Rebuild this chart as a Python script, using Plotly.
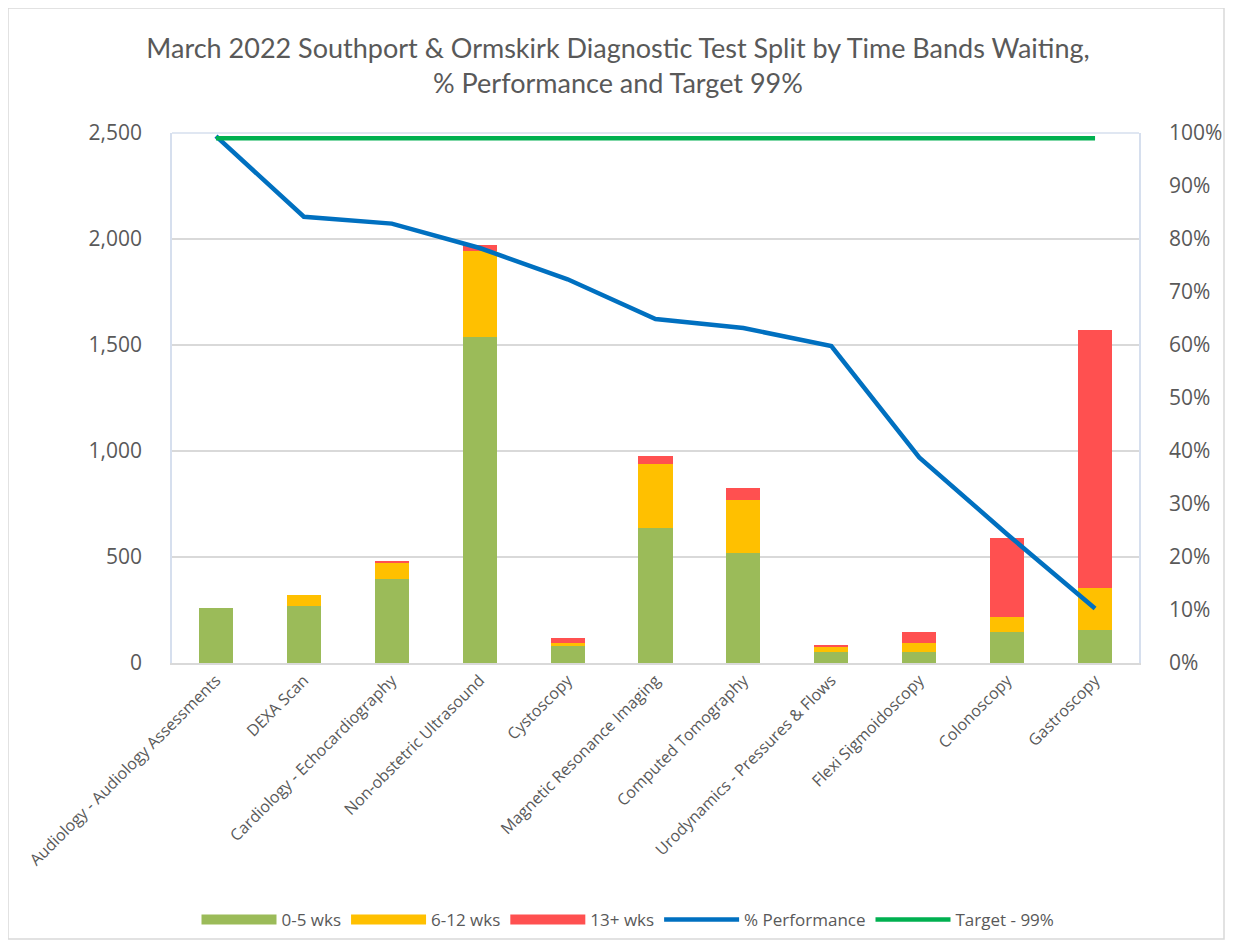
import plotly.graph_objects as go

categories = [
    "Audiology - Audiology Assessments", "DEXA Scan", "Cardiology - Echocardiography",
    "Non-obstetric Ultrasound", "Cystoscopy", "Magnetic Resonance Imaging",
    "Computed Tomography", "Urodynamics - Pressures & Flows", "Flexi Sigmoidoscopy",
    "Colonoscopy", "Gastroscopy",
]
wks_0_5 = [260, 268, 394, 1539, 82, 638, 520, 50, 54, 144, 156]
wks_6_12 = [0, 54, 81, 404, 12, 302, 248, 27, 42, 74, 200]
wks_13_plus = [0, 0, 5, 28, 23, 38, 58, 7, 48, 374, 1213]
performance = [0.994, 0.842, 0.829, 0.783, 0.724, 0.649, 0.632, 0.598, 0.388, 0.243, 0.103]
target = [0.99] * len(categories)

left_ticks = [0, 500, 1000, 1500, 2000, 2500]
right_ticks = [i / 10 for i in range(11)]

GREEN, YELLOW, RED = "#9BBB59", "#FFC000", "#FF5050"
BLUE, TGREEN = "#0070C0", "#00B050"
TXT = "#595959"

# page body has an 8px default margin: work in figure coordinates = page - 8
OFF = 8
W, H = 1217, 932
L, T = 172 - OFF, 133 - OFF
RX, BY = 1139 - OFF, 663 - OFF
pw, ph = RX - L, BY - T


def px(x):
    return (x - OFF - L) / pw


def py(y):
    return (BY - (y - OFF)) / ph


fig = go.Figure()
fig.add_trace(go.Bar(x=categories, y=wks_0_5, name="0-5 wks", marker_color=GREEN,
                     marker_line_width=0, showlegend=False))
fig.add_trace(go.Bar(x=categories, y=wks_6_12, name="6-12 wks", marker_color=YELLOW,
                     marker_line_width=0, showlegend=False))
fig.add_trace(go.Bar(x=categories, y=wks_13_plus, name="13+ wks", marker_color=RED,
                     marker_line_width=0, showlegend=False))
fig.add_trace(go.Scatter(x=categories, y=performance, name="% Performance", mode="lines",
                         line=dict(color=BLUE, width=4.5), yaxis="y2", showlegend=False))
fig.add_trace(go.Scatter(x=categories, y=target, name="Target - 99%", mode="lines",
                         line=dict(color=TGREEN, width=4.5), yaxis="y2", showlegend=False))

# legend entries (Excel-style wide swatches)
for name, col, w in [("0-5 wks", GREEN, 13), ("6-12 wks", YELLOW, 13), ("13+ wks", RED, 13),
                     ("% Performance", BLUE, 4.5), ("Target - 99%", TGREEN, 4.5)]:
    fig.add_trace(go.Scatter(x=[None], y=[None], mode="lines", name=name,
                             line=dict(color=col, width=w), hoverinfo="skip"))

fig.update_layout(
    width=W, height=H,
    margin=dict(l=L, r=W - RX, t=T, b=H - BY, autoexpand=False),
    paper_bgcolor="white", plot_bgcolor="white",
    barmode="stack", bargap=0.613,
    font=dict(family="Open Sans, Noto Sans, sans-serif", color=TXT),
    title=dict(
        text="March 2022 Southport & Ormskirk Diagnostic Test Split by Time Bands Waiting,<br>% Performance and Target 99%",
        x=(618 - OFF) / W, xref="container", xanchor="center",
        y=1 - (58 - OFF) / H, yref="container", yanchor="middle",
        font=dict(family="Lato, Open Sans, sans-serif", size=27, color=TXT),
    ),
    xaxis=dict(
        tickangle=-45, tickfont=dict(size=16, color=TXT),
        showgrid=False, showline=True, linecolor="#D9D9D9", linewidth=1.5,
        ticks="", mirror=False,
    ),
    yaxis=dict(
        range=[0, 2500], tickvals=left_ticks, tickformat=",",
        tickfont=dict(size=21, color=TXT),
        showgrid=True, gridcolor="#D9D9D9", gridwidth=1.5,
        showline=True, linecolor="#D6DFEE", linewidth=1.5,
        zeroline=False, ticks="", ticklabelstandoff=24,
    ),
    yaxis2=dict(
        range=[0, 1], tickvals=right_ticks, tickformat=".0%",
        overlaying="y", side="right",
        tickfont=dict(size=21, color=TXT),
        showgrid=False, showline=True, linecolor="#D6DFEE", linewidth=1.5,
        zeroline=False, ticks="", ticklabelstandoff=24,
    ),
    legend=dict(
        orientation="h", x=px(628), xanchor="center", y=py(920), yanchor="middle",
        font=dict(size=17, color=TXT), traceorder="normal",
        itemwidth=75, bgcolor="rgba(0,0,0,0)",
    ),
    showlegend=True,
)

# plot-area top border
fig.add_shape(type="line", xref="paper", yref="paper", x0=0, x1=1, y0=1, y1=1,
              line=dict(color="#D6DFEE", width=1.5))
# outer chart border
fig.add_shape(type="rect", xref="paper", yref="paper",
              x0=px(8), x1=px(1224), y0=py(939), y1=py(8),
              line=dict(color="#D9D9D9", width=1.5), layer="below")

fig.write_html("out.html")
